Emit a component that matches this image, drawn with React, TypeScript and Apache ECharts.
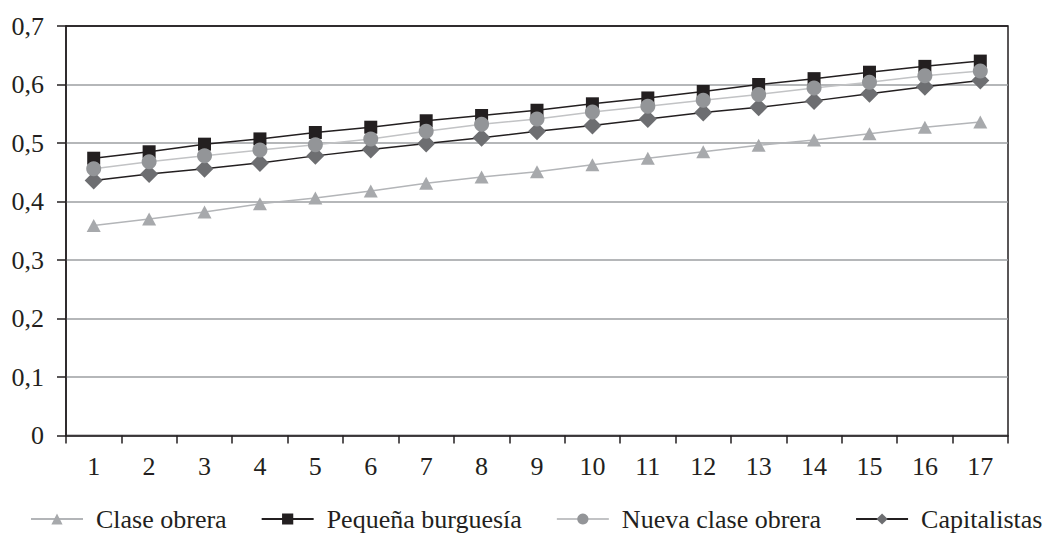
import React, { useEffect, useRef } from "react";
import * as echarts from "echarts";

const categories = ["1","2","3","4","5","6","7","8","9","10","11","12","13","14","15","16","17"];
const claseObrera = [0.359,0.370,0.382,0.396,0.406,0.418,0.431,0.442,0.451,0.463,0.474,0.485,0.496,0.505,0.516,0.527,0.536];
const pequenaBurguesia = [0.474,0.485,0.498,0.507,0.518,0.527,0.538,0.547,0.556,0.567,0.577,0.588,0.600,0.610,0.621,0.631,0.640];
const nuevaClaseObrera = [0.456,0.468,0.478,0.488,0.497,0.507,0.520,0.532,0.541,0.553,0.563,0.573,0.583,0.594,0.604,0.615,0.623];
const capitalistas = [0.436,0.447,0.456,0.466,0.478,0.489,0.499,0.509,0.520,0.530,0.541,0.552,0.561,0.572,0.584,0.596,0.607];

const FONT = "Liberation Serif";
const INK = "#231f20";

export default function App() {
  const ref = useRef<HTMLDivElement>(null);
  useEffect(() => {
    if (!ref.current) return;
    const chart = echarts.init(ref.current, null, { renderer: "svg" });
    const gridColors = ["#9d9fa2","#9d9fa2","#9d9fa2","#9d9fa2","#9d9fa2","#9d9fa2","#9d9fa2", INK];
    chart.setOption({
      animation: false,
      backgroundColor: "#ffffff",
      textStyle: { fontFamily: FONT },
      grid: {
        left: 66, right: 35, top: 26, bottom: 100.5,
        show: true, borderColor: INK, borderWidth: 1.5, backgroundColor: "transparent",
      },
      legend: {
        top: 506,
        left: 30,
        padding: 0,
        itemWidth: 52,
        itemHeight: 14,
        itemGap: 34,
        textStyle: { fontFamily: FONT, fontSize: 26, color: INK, padding: [0, 0, 0, 8] },
        data: ["Clase obrera", "Pequeña burguesía", "Nueva clase obrera", "Capitalistas"],
      },
      xAxis: {
        type: "category",
        data: categories,
        boundaryGap: true,
        axisLine: { lineStyle: { color: INK, width: 1.5 } },
        axisTick: { show: true, inside: false, length: 8, alignWithLabel: false, lineStyle: { color: INK, width: 1.5 } },
        axisLabel: { fontFamily: FONT, fontSize: 26, color: INK, margin: 18 },
        splitLine: { show: false },
      },
      yAxis: {
        type: "value",
        min: 0, max: 0.7, interval: 0.1,
        axisLine: { show: true, lineStyle: { color: INK, width: 1.5 } },
        axisTick: { show: true, inside: false, length: 9, lineStyle: { color: INK, width: 1.5 } },
        axisLabel: {
          fontFamily: FONT, fontSize: 26, color: INK, margin: 22,
          formatter: (v: number) => (v === 0 ? "0" : v.toFixed(1).replace(".", ",")),
        },
        splitLine: { show: true, lineStyle: { color: gridColors, width: 1.5 } },
      },
      series: [
        {
          name: "Clase obrera", type: "line", data: claseObrera, z: 2,
          symbol: "triangle", symbolSize: [14, 13],
          lineStyle: { color: "#b3b5b8", width: 1.5 },
          itemStyle: { color: "#a7a9ac" },
        },
        {
          name: "Pequeña burguesía", type: "line", data: pequenaBurguesia, z: 3,
          symbol: "rect", symbolSize: 13,
          lineStyle: { color: INK, width: 1.5 },
          itemStyle: { color: INK },
        },
        {
          name: "Nueva clase obrera", type: "line", data: nuevaClaseObrera, z: 5,
          symbol: "circle", symbolSize: 15,
          lineStyle: { color: "#c2c3c5", width: 1.5 },
          itemStyle: { color: "#939598" },
        },
        {
          name: "Capitalistas", type: "line", data: capitalistas, z: 4,
          symbol: "diamond", symbolSize: 18,
          lineStyle: { color: INK, width: 1.5 },
          itemStyle: { color: "#6d6e71" },
        },
      ],
    });
    return () => chart.dispose();
  }, []);
  return <div ref={ref} style={{ position: "fixed", left: 0, top: 0, width: 1043, height: 536 }} />;
}
